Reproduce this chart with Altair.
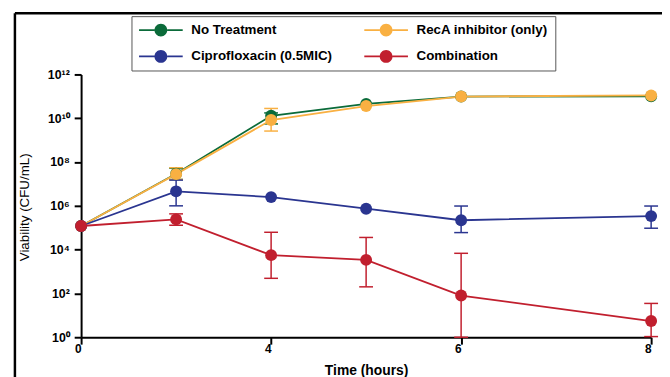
import json
import altair as alt
import pandas as pd

# ---------------- data ----------------
series = ["No Treatment", "RecA inhibitor (only)", "Ciprofloxacin (0.5MIC)", "Combination"]
colors = ["#0b6b3a", "#f9b042", "#2a3590", "#c11f2e"]

times = ["0", "2", "4", "5", "6", "8"]
x_domain = ["0", "2", "4", "5", "6", "7", "8"]
x_tick_values = ["0", "4", "6", "8"]

y_tick_values = [1, 1e2, 1e4, 1e6, 1e8, 1e10, 1e12]
y_tick_labels = ["10\u2070", "10\u00b2", "10\u2074", "10\u2076", "10\u2078", "10\u00b9\u2070", "10\u00b9\u00b2"]

no_treatment = [1.2e5, 2.9e7, 1.3e10, 4.5e10, 9.8e10, 1.0e11]
no_treatment_lo = [None, 1.6e7, 5.5e9, None, None, None]
no_treatment_hi = [None, 5.2e7, 1.75e10, None, None, None]

reca = [1.2e5, 2.8e7, 8.3e9, 3.6e10, 9.8e10, 1.1e11]
reca_lo = [None, 1.6e7, 2.6e9, None, None, None]
reca_hi = [None, 5.5e7, 2.8e10, None, None, None]

cipro = [1.2e5, 4.6e6, 2.5e6, 7.4e5, 2.2e5, 3.4e5]
cipro_lo = [None, 1.0e6, None, None, 6.0e4, 9.5e4]
cipro_hi = [None, 1.5e7, None, None, 9.8e5, 9.8e5]

combo = [1.2e5, 2.4e5, 5.6e3, 3.4e3, 80, 5.5]
combo_lo = [None, 1.3e5, 4.9e2, 2.0e2, 1.0, 1.07]
combo_hi = [None, 4.3e5, 6.2e4, 3.6e4, 6.8e3, 35]

values = [no_treatment, reca, cipro, combo]
lows = [no_treatment_lo, reca_lo, cipro_lo, combo_lo]
highs = [no_treatment_hi, reca_hi, cipro_hi, combo_hi]

rows, err_rows = [], []
for name, vals, los, his in zip(series, values, lows, highs):
    for t, v, lo, hi in zip(times, vals, los, his):
        rows.append({"time": t, "series": name, "cfu": v})
        if lo is not None:
            err_rows.append({"time": t, "series": name, "lo": lo, "hi": hi})
df = pd.DataFrame(rows)
err = pd.DataFrame(err_rows)

FONT = "Liberation Sans"
legend_symbol = ("M-3.4,-0.13H-1V0.13H-3.4Z M1,-0.13H3.4V0.13H1Z "
                 "M-1,0A1,1,0,1,0,1,0A1,1,0,1,0,-1,0Z")

x_enc = alt.X("time:O",
              scale=alt.Scale(type="point", domain=x_domain, padding=0),
              axis=alt.Axis(values=x_tick_values, labelAngle=0, title="Time (hours)",
                            titleFontSize=14, titleFontWeight="bold", titlePadding=10,
                            labelPadding=4, labelFontSize=12))
y_scale = alt.Scale(type="log", domain=[1, 1e12])
label_expr = json.dumps(y_tick_labels) + "[round(log(datum.value)/LN10/2)]"
y_axis = alt.Axis(values=y_tick_values, labelExpr=label_expr, title="Viability (CFU/mL)",
                  titleFontWeight="normal", titleFontSize=13.5, titleX=-57, titleY=134,
                  titleBaseline="middle", labelPadding=5, labelFontSize=12.5)

color_enc = alt.Color("series:N", scale=alt.Scale(domain=series, range=colors),
                      legend=alt.Legend(title=None, orient="none", legendX=51, legendY=-59,
                                        direction="horizontal", columns=2,
                                        strokeColor="#555555", fillColor="white",
                                        padding=7, symbolType=legend_symbol, symbolSize=169,
                                        symbolStrokeWidth=0, symbolOpacity=1,
                                        symbolOffset=16, labelOffset=24,
                                        columnPadding=31, rowPadding=12,
                                        labelFont=FONT, labelFontSize=13.5,
                                        labelFontWeight="bold", labelColor="black"))

base = alt.Chart(df).encode(x=x_enc, color=color_enc)
lines = base.mark_line(strokeWidth=1.8, opacity=1).encode(
    y=alt.Y("cfu:Q", scale=y_scale, axis=y_axis))
points = base.mark_circle(size=145, opacity=1).encode(y=alt.Y("cfu:Q"))

ebase = alt.Chart(err).encode(x=alt.X("time:O"), color=alt.Color("series:N"))
bars = ebase.mark_rule(strokeWidth=1.5, opacity=1).encode(y=alt.Y("lo:Q"), y2="hi:Q")
cap_lo = ebase.mark_tick(size=14, thickness=1.5, orient="horizontal", opacity=1).encode(
    y=alt.Y("lo:Q"))
cap_hi = ebase.mark_tick(size=14, thickness=1.5, orient="horizontal", opacity=1).encode(
    y=alt.Y("hi:Q"))

frame_src = alt.Chart(pd.DataFrame({"k": [0]}))
frame_top = frame_src.mark_rule(color="black", strokeWidth=2.5).encode(
    x=alt.value(-67), x2=alt.value(700), y=alt.value(-62))
frame_left = frame_src.mark_rule(color="black", strokeWidth=2.5).encode(
    x=alt.value(-67), y=alt.value(-62), y2=alt.value(400))

chart = alt.layer(frame_top, frame_left, bars, cap_lo, cap_hi, lines, points).properties(
    width=577, height=266,
    autosize=alt.AutoSizeParams(type="none"),
    padding={"left": 74, "top": 65, "right": 11, "bottom": 38},
).configure_view(stroke=None).configure_axis(
    grid=False, domainColor="black", domainWidth=2, tickColor="black", tickWidth=2,
    tickSize=7, labelFont=FONT, labelFontWeight="bold", labelColor="black",
    titleFont=FONT, titleColor="black"
)

chart.save("out.html", embed_options={"renderer": "svg", "actions": False})
